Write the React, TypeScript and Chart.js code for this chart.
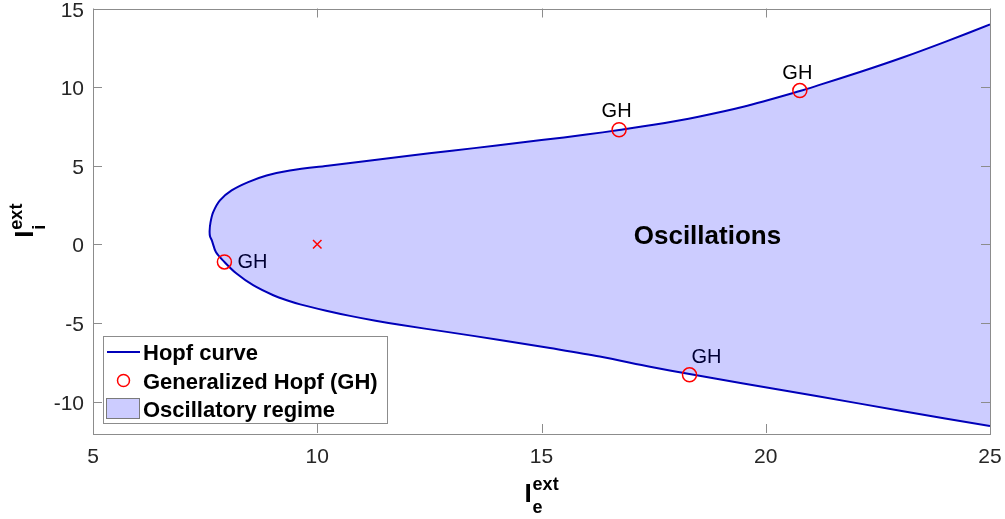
import React, { useEffect, useRef } from 'react';
import { Chart, registerables } from 'chart.js';

Chart.register(...registerables);

// Hopf curve, upper branch (from the turning point to the right edge)
const upperX = [7.6, 7.62, 7.68, 7.83, 8.09, 8.46, 8.87, 9.39, 10.28, 11.1, 12.0, 13.0, 14.0, 15.0, 16.0, 16.73, 17.5, 18.5, 19.5, 20.76, 21.2, 22.1, 23.07, 24.0, 25.0];
const upperY = [0.85, 1.4, 2.05, 2.8, 3.43, 3.96, 4.38, 4.7, 5.02, 5.3, 5.62, 5.95, 6.29, 6.63, 6.98, 7.27, 7.6, 8.12, 8.75, 9.75, 10.14, 10.96, 11.9, 12.88, 13.98];
// Hopf curve, lower branch (from the turning point to the right edge)
const lowerX = [7.6, 7.61, 7.65, 7.74, 7.93, 8.2, 8.57, 9.02, 9.32, 9.62, 10.2, 10.73, 11.3, 11.84, 12.96, 14.07, 15.19, 16.3, 17.42, 18.3, 19.5, 21.13, 23.0, 25.0];
const lowerY = [0.85, 0.5, 0.25, -0.49, -1.12, -1.86, -2.6, -3.24, -3.56, -3.82, -4.22, -4.55, -4.86, -5.12, -5.6, -6.08, -6.6, -7.14, -7.78, -8.25, -8.85, -9.65, -10.58, -11.56];

// Generalized Hopf points
const ghX = [7.93, 16.73, 20.76, 18.3];
const ghY = [-1.12, 7.29, 9.78, -8.3];
const ghLabels = ['GH', 'GH', 'GH', 'GH'];

// Red cross
const crossX = [10];
const crossY = [0];

const xTicks = [5, 10, 15, 20, 25];
const yTicks = [-10, -5, 0, 5, 10, 15];
const xRange = [5, 25];
const yRange = [-12, 15];

const regionLabel = 'Oscillations';
const legendLabels = ['Hopf curve', 'Generalized Hopf (GH)', 'Oscillatory regime'];

// label placement offsets (pixels) relative to each GH point
const ghLabelOffsets = [
  { dx: 13, dy: 0, align: 'left' },
  { dx: -2.5, dy: -19, align: 'center' },
  { dx: -2.5, dy: -18.5, align: 'center' },
  { dx: 17, dy: -18.5, align: 'center' },
];

const LINE_COLOR = 'rgb(0,0,185)';
const FILL_COLOR = 'rgba(0,0,255,0.2)';
const AXIS_COLOR = '#8c8c8c';
const TEXT_COLOR = '#262626';
const FONT = '"Liberation Sans", Arial, Helvetica, sans-serif';

const overlayPlugin = {
  id: 'overlay',
  beforeDatasetsDraw(chart: any) {
    const ctx = chart.ctx;
    const xs = chart.scales.x;
    const ys = chart.scales.y;
    ctx.save();
    ctx.font = `20px ${FONT}`;
    ctx.fillStyle = '#000';
    ctx.textBaseline = 'middle';
    ghX.forEach((x, i) => {
      const o = ghLabelOffsets[i];
      ctx.textAlign = o.align as CanvasTextAlign;
      ctx.fillText(ghLabels[i], xs.getPixelForValue(x) + o.dx, ys.getPixelForValue(ghY[i]) + o.dy + 1);
    });
    ctx.restore();
  },
  afterDraw(chart: any) {
    const ctx = chart.ctx;
    const a = chart.chartArea;
    const xs = chart.scales.x;
    const ys = chart.scales.y;
    ctx.save();

    // region text
    ctx.font = `bold 26px ${FONT}`;
    ctx.fillStyle = '#000';
    ctx.textAlign = 'center';
    ctx.textBaseline = 'alphabetic';
    ctx.fillText(regionLabel, xs.getPixelForValue(18.7), ys.getPixelForValue(0) - 0.5);

    // box
    ctx.strokeStyle = AXIS_COLOR;
    ctx.lineWidth = 1;
    ctx.strokeRect(Math.round(a.left) + 0.5, Math.round(a.top) + 0.5, Math.round(a.right - a.left), Math.round(a.bottom - a.top));

    // ticks (inward)
    const tl = 9;
    ctx.beginPath();
    xTicks.forEach((t) => {
      const px = Math.round(xs.getPixelForValue(t)) + 0.5;
      ctx.moveTo(px, a.bottom);
      ctx.lineTo(px, a.bottom - tl);
      ctx.moveTo(px, a.top);
      ctx.lineTo(px, a.top + tl);
    });
    yTicks.forEach((t) => {
      const py = Math.round(ys.getPixelForValue(t)) + 0.5;
      ctx.moveTo(a.left, py);
      ctx.lineTo(a.left + tl, py);
      ctx.moveTo(a.right, py);
      ctx.lineTo(a.right - tl, py);
    });
    ctx.stroke();

    // tick labels
    ctx.fillStyle = TEXT_COLOR;
    ctx.font = `21px ${FONT}`;
    ctx.textBaseline = 'alphabetic';
    ctx.textAlign = 'center';
    xTicks.forEach((t) => {
      ctx.fillText(String(t), xs.getPixelForValue(t), a.bottom + 30);
    });
    ctx.textAlign = 'right';
    yTicks.forEach((t) => {
      ctx.fillText(String(t), a.left - 9, ys.getPixelForValue(t) + 8);
    });

    // x axis title: I^ext_e
    const bigFont = `bold 26px ${FONT}`;
    const smallFont = `bold 18px ${FONT}`;
    ctx.fillStyle = '#000';
    ctx.textAlign = 'left';
    ctx.font = bigFont;
    const wI = ctx.measureText('I').width;
    ctx.font = smallFont;
    const wExt = ctx.measureText('ext').width;
    const total = wI + 1 + wExt;
    const cx = (a.left + a.right) / 2;
    const xStart = cx - total / 2;
    const xBase = a.bottom + 69;
    ctx.font = bigFont;
    ctx.fillText('I', xStart, xBase);
    ctx.font = smallFont;
    ctx.fillText('ext', xStart + wI + 1, xBase - 12);
    ctx.fillText('e', xStart + wI + 1, xBase + 11);

    // y axis title: I^ext_i (rotated)
    const cy = (a.top + a.bottom) / 2;
    ctx.save();
    ctx.translate(33, cy + total / 2);
    ctx.rotate(-Math.PI / 2);
    ctx.font = bigFont;
    ctx.fillText('I', 0, 0);
    ctx.font = smallFont;
    ctx.fillText('ext', wI + 1, -11);
    ctx.fillText('i', wI + 1, 12);
    ctx.restore();

    // legend
    const lx = 103.5, ly = 336.5, lw = 284, lh = 87;
    ctx.fillStyle = '#fff';
    ctx.fillRect(lx, ly, lw, lh);
    ctx.strokeStyle = AXIS_COLOR;
    ctx.lineWidth = 1;
    ctx.strokeRect(lx, ly, lw, lh);
    const rows = [352, 380.5, 408.5];
    // line sample
    ctx.strokeStyle = LINE_COLOR;
    ctx.lineWidth = 2;
    ctx.beginPath();
    ctx.moveTo(107, rows[0]);
    ctx.lineTo(140, rows[0]);
    ctx.stroke();
    // circle sample
    ctx.strokeStyle = 'red';
    ctx.lineWidth = 1.5;
    ctx.beginPath();
    ctx.arc(123.5, rows[1], 6, 0, Math.PI * 2);
    ctx.stroke();
    // patch sample
    ctx.fillStyle = FILL_COLOR;
    ctx.fillRect(106.5, 398.5, 33, 20);
    ctx.strokeStyle = '#7a7a7a';
    ctx.lineWidth = 1;
    ctx.strokeRect(106.5, 398.5, 33, 20);
    // labels
    ctx.fillStyle = '#000';
    ctx.font = `bold 22px ${FONT}`;
    ctx.textAlign = 'left';
    ctx.textBaseline = 'alphabetic';
    legendLabels.forEach((t, i) => {
      ctx.fillText(t, 143, rows[i] + 8);
    });

    ctx.restore();
  },
};

export default function App() {
  const canvasRef = useRef<HTMLCanvasElement | null>(null);

  useEffect(() => {
    const canvas = canvasRef.current;
    if (!canvas) return;
    const curve: { x: number; y: number }[] = [];
    for (let i = upperX.length - 1; i >= 0; i--) curve.push({ x: upperX[i], y: upperY[i] });
    for (let i = 1; i < lowerX.length; i++) curve.push({ x: lowerX[i], y: lowerY[i] });

    const chart = new Chart(canvas, {
      type: 'scatter',
      data: {
        datasets: [
          {
            label: 'cross',
            data: crossX.map((x, i) => ({ x, y: crossY[i] })),
            pointStyle: 'crossRot',
            pointRadius: 6,
            borderColor: 'red',
            backgroundColor: 'red',
            pointBorderWidth: 1.5,
            showLine: false,
          },
          {
            label: 'Generalized Hopf (GH)',
            data: ghX.map((x, i) => ({ x, y: ghY[i] })),
            pointStyle: 'circle',
            pointRadius: 7,
            borderColor: 'red',
            backgroundColor: 'rgba(0,0,0,0)',
            pointBorderWidth: 1.5,
            showLine: false,
          },
          {
            label: 'Hopf curve',
            data: curve,
            showLine: true,
            borderColor: LINE_COLOR,
            borderWidth: 2,
            backgroundColor: FILL_COLOR,
            fill: 'shape',
            pointRadius: 0,
            tension: 0.3,
          } as any,
        ],
      },
      options: {
        responsive: false,
        animation: false,
        layout: { padding: { left: 93, right: 15, top: 8, bottom: 86 } },
        scales: {
          x: { type: 'linear', min: xRange[0], max: xRange[1], display: false },
          y: { type: 'linear', min: yRange[0], max: yRange[1], display: false },
        },
        plugins: {
          legend: { display: false },
          tooltip: { enabled: false },
        },
      },
      plugins: [overlayPlugin],
    });
    return () => chart.destroy();
  }, []);

  return (
    <div style={{ position: 'absolute', left: 0, top: 0, width: 1005, height: 519, background: '#fff' }}>
      <canvas ref={canvasRef} width={1005} height={519} style={{ display: 'block' }} />
    </div>
  );
}
